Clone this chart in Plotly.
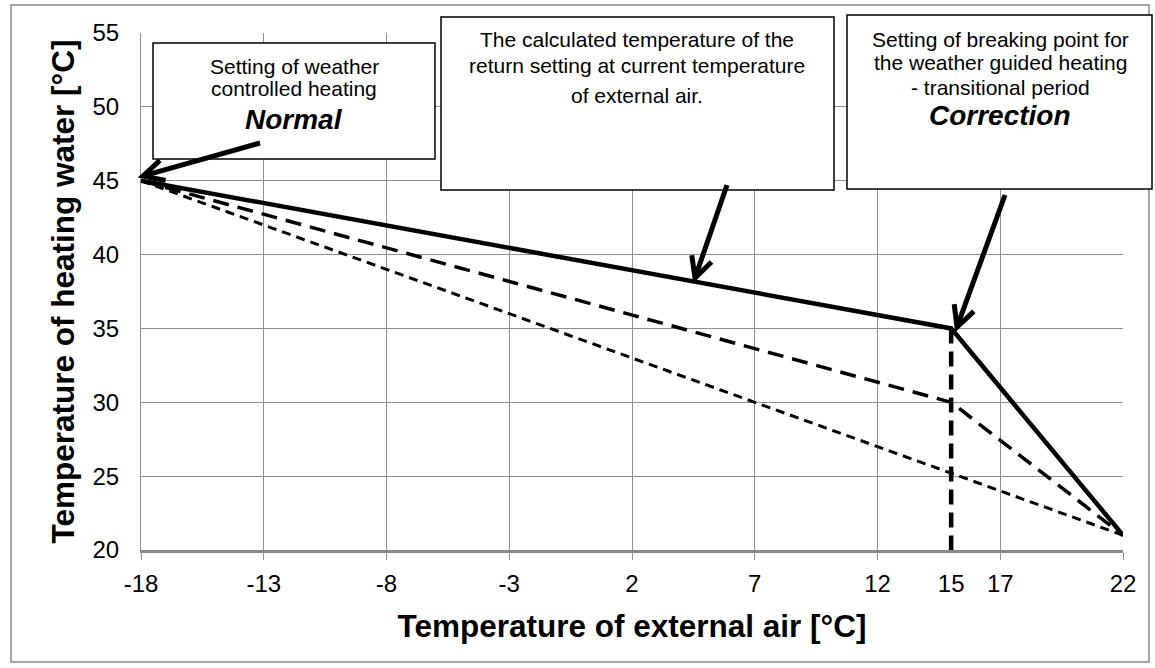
import math
import plotly.graph_objects as go

# Heating curves: supply water temperature versus outdoor air temperature
outdoor_knee = [-18, 15, 22]
flow_corrected = [45, 35, 21]
flow_intermediate = [45, 30, 21]
outdoor_linear = [-18, 22]
flow_linear = [45, 21]
knee_x = [15, 15]
knee_y = [35, 20]

x_tick_vals = [-18, -13, -8, -3, 2, 7, 12, 15, 17, 22]
x_tick_text = ["-18", "-13", "-8", "-3", "2", "7", "12", "15", "17", "22"]
x_grid_vals = [-18, -13, -8, -3, 2, 7, 12, 17, 22]
y_tick_vals = [20, 25, 30, 35, 40, 45, 50, 55]

W, H = 1155, 668
M_L, M_R, M_T, M_B = 141, 32, 33, 118
PW = W - M_L - M_R
PH = H - M_T - M_B

FONT = "Liberation Sans, Arial, sans-serif"
GRID = "#8e8e8e"


def px(x):
    return (x - M_L) / PW


def py(y):
    return (H - M_B - y) / PH


def box(x0, y0, x1, y1, color="black", width=1.5, fill="white"):
    return dict(type="rect", xref="paper", yref="paper", layer="above",
                x0=px(x0), x1=px(x1), y0=py(y1), y1=py(y0),
                line=dict(color=color, width=width), fillcolor=fill)


def arrow(tail, tip, width=5, head=23, angle=27):
    tx, ty = tail
    hx, hy = tip
    dx, dy = tx - hx, ty - hy
    n = math.hypot(dx, dy)
    ux, uy = dx / n, dy / n
    arms = []
    for s in (1, -1):
        a = math.radians(angle * s)
        vx = ux * math.cos(a) - uy * math.sin(a)
        vy = ux * math.sin(a) + uy * math.cos(a)
        arms.append((hx + head * vx, hy + head * vy))
    sx, sy = hx + 3 * ux, hy + 3 * uy
    shaft = dict(type="line", xref="paper", yref="paper", layer="above",
                 x0=px(tx), y0=py(ty), x1=px(sx), y1=py(sy),
                 line=dict(color="black", width=width))
    path = (f"M{px(arms[0][0])},{py(arms[0][1])} "
            f"L{px(hx)},{py(hy)} L{px(arms[1][0])},{py(arms[1][1])}")
    tip_shape = dict(type="path", xref="paper", yref="paper", layer="above",
                     path=path, line=dict(color="black", width=width))
    return [shaft, tip_shape]


def label(text, x, y, size=21, bold=False, italic=False):
    t = text
    if bold:
        t = f"<b>{t}</b>"
    if italic:
        t = f"<i>{t}</i>"
    return dict(text=t, x=px(x), y=py(y), xref="paper", yref="paper",
                xanchor="center", yanchor="middle", showarrow=False,
                align="center", font=dict(family=FONT, size=size, color="black"))


fig = go.Figure()

fig.add_trace(go.Scatter(x=outdoor_linear, y=flow_linear, mode="lines",
                         line=dict(color="black", width=3, dash="9px,6px"),
                         hoverinfo="skip"))
fig.add_trace(go.Scatter(x=outdoor_knee, y=flow_intermediate, mode="lines",
                         line=dict(color="black", width=3.5, dash="16px,9px"),
                         hoverinfo="skip"))
fig.add_trace(go.Scatter(x=knee_x, y=knee_y, mode="lines",
                         line=dict(color="black", width=4.5, dash="15px,8px"),
                         hoverinfo="skip"))
fig.add_trace(go.Scatter(x=outdoor_knee, y=flow_corrected, mode="lines",
                         line=dict(color="black", width=4.5),
                         hoverinfo="skip"))

shapes = [
    # outer frame
    dict(type="rect", xref="paper", yref="paper", layer="below",
         x0=px(11), x1=px(1149), y0=py(662), y1=py(5),
         line=dict(color="#8a8a8a", width=1.5), fillcolor="rgba(0,0,0,0)"),
    box(153, 43, 435, 159),
    box(441, 17, 834, 190),
    box(847, 15, 1152, 189),
]
shapes += arrow((260, 143), (143, 176))
shapes += arrow((727, 185), (695, 278))
shapes += arrow((1005, 195), (957, 327))

annotations = [
    label("Setting of weather", 294, 66),
    label("controlled heating", 294, 89),
    label("Normal", 294, 120, size=28, bold=True, italic=True),
    label("The calculated temperature of the", 637, 39),
    label("return setting at current temperature", 637, 65),
    label("of external air.", 637, 95),
    label("Setting of breaking point for", 1000, 39),
    label("the weather guided heating", 1000, 63),
    label("- transitional period", 1000, 87),
    label("Correction", 1000, 115, size=28, bold=True, italic=True),
]

fig.update_layout(
    width=W, height=H,
    margin=dict(l=M_L, r=M_R, t=M_T, b=M_B, pad=0),
    paper_bgcolor="white", plot_bgcolor="white",
    showlegend=False,
    shapes=shapes,
    annotations=annotations,
    font=dict(family=FONT, color="black"),
)

fig.update_xaxes(
    range=[-18, 22], tickmode="array", tickvals=x_tick_vals, ticktext=x_tick_text,
    showgrid=False, zeroline=False, ticks="", ticklabelstandoff=10,
    tickfont=dict(family=FONT, size=24, color="black"),
    showline=True, linecolor="#8a8a8a", linewidth=3,
    minor=dict(tickmode="array", tickvals=x_grid_vals, showgrid=True,
               gridcolor=GRID, gridwidth=1, ticks="outside", ticklen=7,
               tickcolor=GRID, tickwidth=1),
    title=dict(text="<b>Temperature of external air [°C]</b>", standoff=20,
               font=dict(family=FONT, size=31.5, color="black")),
)
fig.update_yaxes(
    range=[20, 55], tickmode="array", tickvals=y_tick_vals,
    showgrid=True, gridcolor=GRID, gridwidth=1, zeroline=False, ticks="",
    ticklabelstandoff=16,
    tickfont=dict(family=FONT, size=24, color="black"),
    showline=True, linecolor=GRID, linewidth=1,
    title=dict(text="<b>Temperature of heating water [°C]</b>", standoff=8,
               font=dict(family=FONT, size=31.5, color="black")),
)

fig.write_html("out.html")
